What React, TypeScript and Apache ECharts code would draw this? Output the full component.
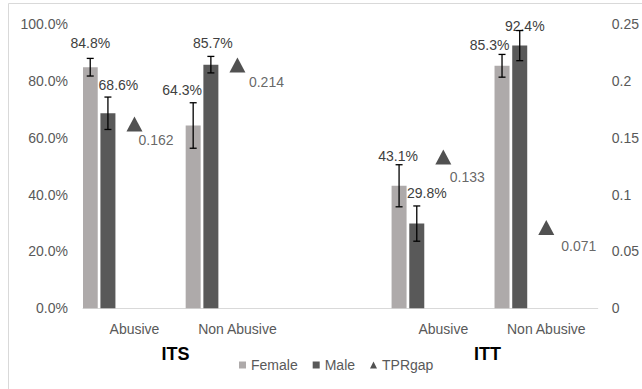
import React, { useEffect, useRef } from "react";
import * as echarts from "echarts";

// ---- data ----
const CATEGORIES = ["Abusive", "Non Abusive", "", "Abusive", "Non Abusive"];
const GROUPS = ["ITS", "ITT"];
const FEMALE = [0.848, 0.643, null, 0.431, 0.853];
const MALE = [0.686, 0.857, null, 0.298, 0.924];
const FEMALE_ERR = [0.031, 0.08, null, 0.074, 0.04];
const MALE_ERR = [0.057, 0.029, null, 0.062, 0.053];
const TPRGAP = [0.162, 0.214, null, 0.133, 0.071];
const LEFT_TICKS = { min: 0, max: 1, interval: 0.2 };
const RIGHT_TICKS = { min: 0, max: 0.25, interval: 0.05 };

// ---- styling ----
const FONT = "Liberation Sans, Arial, sans-serif";
const AXIS_COLOR = "#595959";
const LABEL_COLOR = "#404040";
const FEMALE_COLOR = "#AEAAAA";
const MALE_COLOR = "#595959";
const TRI_COLOR = "#262626";
const BAR_W = 15;
const GAP_RATIO = 0.18;
const SLOTS = 6; // two visible bars + four empty slots, as in the source layout
const FEMALE_LABEL_OFFSETS = [[0, -18], [-11, -29], [0, 0], [-1, -24], [-12.5, -15]];
const MALE_LABEL_OFFSETS = [[10.5, -22], [2, -16], [0, 0], [10, -25], [5, -14]];
const TRI_LABEL_OFFSETS = [[-4, 16], [3.5, 17], [0, 0], [-1.5, 19.5], [7, 18.5]];

function slotOffset(i: number) {
  const gap = BAR_W * GAP_RATIO;
  const total = SLOTS * BAR_W + (SLOTS - 1) * gap;
  return -total / 2 + BAR_W / 2 + i * (BAR_W + gap);
}

function pct(v: number) {
  return (v * 100).toFixed(1) + "%";
}

function errorSeries(name: string, values: (number | null)[], errs: (number | null)[], slot: number) {
  const data = values
    .map((v, i) => (v == null ? null : [i, v, errs[i] as number]))
    .filter((d) => d != null);
  return {
    type: "custom",
    name,
    xAxisIndex: 0,
    yAxisIndex: 0,
    data,
    encode: { x: 0, y: 1 },
    silent: true,
    z: 5,
    renderItem: (params: any, api: any) => {
      const idx = api.value(0);
      const v = api.value(1);
      const e = api.value(2);
      const top = api.coord([idx, v + e]);
      const bot = api.coord([idx, v - e]);
      const x = top[0] + slotOffset(slot);
      const cap = 3.5;
      const style = { stroke: "#000", lineWidth: 1.3 };
      return {
        type: "group",
        children: [
          { type: "line", shape: { x1: x, y1: top[1], x2: x, y2: bot[1] }, style },
          { type: "line", shape: { x1: x - cap, y1: top[1], x2: x + cap, y2: top[1] }, style },
          { type: "line", shape: { x1: x - cap, y1: bot[1], x2: x + cap, y2: bot[1] }, style },
        ],
      };
    },
  };
}

function barData(values: (number | null)[], offsets: number[][]) {
  return values.map((v, i) =>
    v == null
      ? "-"
      : { value: v, label: { offset: [offsets[i][0], offsets[i][1] + 2] } }
  );
}

export default function App() {
  const ref = useRef<HTMLDivElement>(null);
  useEffect(() => {
    if (!ref.current) return;
    const chart = echarts.init(ref.current, undefined, { renderer: "svg" });
    const placeholder = (k: number) => ({
      type: "bar",
      name: "_slot" + k,
      data: CATEGORIES.map(() => "-"),
      barWidth: BAR_W,
      barGap: GAP_RATIO * 100 + "%",
      silent: true,
    });
    const barLabel = {
      show: true,
      position: "top",
      distance: 0,
      color: LABEL_COLOR,
      fontFamily: FONT,
      fontSize: 14,
      lineHeight: 16,
      formatter: (p: any) => pct(p.value),
    };
    chart.setOption({
      animation: false,
      textStyle: { fontFamily: FONT },
      grid: { left: 83, top: 24, width: 516, height: 284.3, containLabel: false },
      legend: {
        data: [
          { name: "Female", icon: "rect" },
          { name: "Male", icon: "rect" },
          { name: "TPRgap", icon: "triangle" },
        ],
        left: 234,
        top: 353,
        itemWidth: 7,
        itemHeight: 7,
        itemGap: 15,
        textStyle: { color: AXIS_COLOR, fontSize: 14, fontFamily: FONT },
        selectedMode: false,
      },
      xAxis: {
        type: "category",
        data: CATEGORIES,
        axisLine: { lineStyle: { color: "#D9D9D9", width: 1 } },
        axisTick: { show: false },
        axisLabel: { interval: 0, color: AXIS_COLOR, fontSize: 14, fontFamily: FONT, margin: 14 },
      },
      yAxis: [
        {
          type: "value",
          ...LEFT_TICKS,
          splitLine: { show: false },
          axisLine: { show: false },
          axisTick: { show: false },
          axisLabel: { color: AXIS_COLOR, fontSize: 14, fontFamily: FONT, margin: 15, formatter: (v: number) => pct(v) },
        },
        {
          type: "value",
          ...RIGHT_TICKS,
          position: "right",
          splitLine: { show: false },
          axisLine: { show: false },
          axisTick: { show: false },
          axisLabel: {
            color: AXIS_COLOR,
            fontSize: 14,
            fontFamily: FONT,
            margin: 14,
            formatter: (v: number) => String(parseFloat(v.toFixed(2))),
          },
        },
      ],
      series: [
        {
          type: "bar",
          name: "Female",
          data: barData(FEMALE, FEMALE_LABEL_OFFSETS),
          barWidth: BAR_W,
          barGap: GAP_RATIO * 100 + "%",
          itemStyle: { color: FEMALE_COLOR },
          label: barLabel,
          z: 3,
        },
        {
          type: "bar",
          name: "Male",
          data: barData(MALE, MALE_LABEL_OFFSETS),
          barWidth: BAR_W,
          barGap: GAP_RATIO * 100 + "%",
          itemStyle: { color: MALE_COLOR },
          label: barLabel,
          z: 3,
        },
        placeholder(1),
        placeholder(2),
        placeholder(3),
        placeholder(4),
        errorSeries("FemaleErr", FEMALE, FEMALE_ERR, 0),
        errorSeries("MaleErr", MALE, MALE_ERR, 1),
        {
          type: "scatter",
          name: "TPRgap",
          yAxisIndex: 1,
          symbol: "triangle",
          symbolSize: [16, 15],
          itemStyle: { color: TRI_COLOR },
          z: 6,
          data: TPRGAP.map((v, i) =>
            v == null
              ? "-"
              : { value: v, label: { offset: TRI_LABEL_OFFSETS[i] } }
          ),
          label: {
            show: true,
            position: "right",
            distance: 0,
            color: LABEL_COLOR,
            fontSize: 14,
            fontFamily: FONT,
            formatter: (p: any) => p.value.toFixed(3),
          },
        },
      ],
      graphic: [
        {
          type: "rect",
          shape: { x: 8.5, y: 3.5, width: 700, height: 500 },
          style: { fill: "none", stroke: "#D9D9D9", lineWidth: 1 },
          silent: true,
          z: -10,
        },
        {
          type: "text",
          x: 175.5,
          y: 354,
          style: { text: GROUPS[0], fontSize: 18, fontWeight: "bold", fontFamily: FONT, fill: "#000", align: "center", verticalAlign: "middle" },
        },
        {
          type: "text",
          x: 487.5,
          y: 354,
          style: { text: GROUPS[1], fontSize: 18, fontWeight: "bold", fontFamily: FONT, fill: "#000", align: "center", verticalAlign: "middle" },
        },
      ],
    });
    return () => chart.dispose();
  }, []);
  return (
    <div
      ref={ref}
      style={{ position: "fixed", left: 0, top: 0, width: 642, height: 389, background: "#fff" }}
    />
  );
}
